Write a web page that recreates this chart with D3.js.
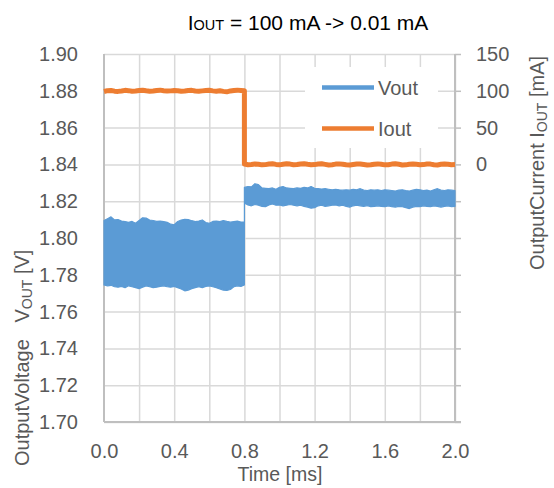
<!DOCTYPE html>
<html>
<head>
<meta charset="utf-8">
<script src="https://cdn.jsdelivr.net/npm/d3@7/dist/d3.min.js"></script>
<style>
  html, body { margin: 0; padding: 0; background: #fff; }
  svg { display: block; font-family: "Liberation Sans", Arial, sans-serif; }
</style>
</head>
<body>
<svg id="chart" width="554" height="488"></svg>
<script>
// ---------- data ----------
const seriesNames = ["Vout", "Iout"];
const xTickLabels = [0.0, 0.4, 0.8, 1.2, 1.6, 2.0];
const xGrid = [0.2, 0.4, 0.6, 0.8, 1.0, 1.2, 1.4, 1.6, 1.8, 2.0];
const yLeftTicks = [1.70, 1.72, 1.74, 1.76, 1.78, 1.80, 1.82, 1.84, 1.86, 1.88, 1.90];
const yRightLabels = [0, 50, 100, 150];
const yRightTicks = [-350, -300, -250, -200, -150, -100, -50, 0, 50, 100, 150];

// sample times [ms]
const t1 = [0.00,0.02,0.04,0.06,0.08,0.10,0.12,0.14,0.16,0.18,0.20,0.22,0.24,0.26,0.28,0.30,0.32,0.34,0.36,0.38,0.40,
            0.42,0.44,0.46,0.48,0.50,0.52,0.54,0.56,0.58,0.60,0.62,0.64,0.66,0.68,0.70,0.72,0.74,0.76,0.78,0.80];
const t2 = [0.80,0.82,0.84,0.86,0.88,0.90,0.92,0.94,0.96,0.98,1.00,1.02,1.04,1.06,1.08,1.10,1.12,1.14,1.16,1.18,1.20,
            1.22,1.24,1.26,1.28,1.30,1.32,1.34,1.36,1.38,1.40,1.42,1.44,1.46,1.48,1.50,1.52,1.54,1.56,1.58,1.60,
            1.62,1.64,1.66,1.68,1.70,1.72,1.74,1.76,1.78,1.80,1.82,1.84,1.86,1.88,1.90,1.92,1.94,1.96,1.98,2.00];

// Vout ripple envelope [V], 100 mA load
const voutHi1 = [1.8095,1.8105,1.8115,1.8098,1.8100,1.8092,1.8089,1.8085,1.8090,1.8080,1.8095,1.8110,1.8108,1.8098,1.8095,1.8090,1.8092,1.8089,1.8085,1.8075,1.8072,
                 1.8090,1.8098,1.8102,1.8100,1.8094,1.8089,1.8092,1.8098,1.8084,1.8080,1.8090,1.8092,1.8089,1.8095,1.8090,1.8086,1.8089,1.8092,1.8087,1.8088];
const voutLo1 = [1.7745,1.7740,1.7743,1.7735,1.7733,1.7737,1.7730,1.7740,1.7735,1.7730,1.7725,1.7733,1.7740,1.7735,1.7730,1.7733,1.7737,1.7740,1.7735,1.7733,1.7737,
                 1.7730,1.7723,1.7713,1.7717,1.7725,1.7730,1.7735,1.7730,1.7737,1.7740,1.7735,1.7730,1.7723,1.7717,1.7715,1.7720,1.7735,1.7740,1.7737,1.7745];
// Vout ripple envelope [V], 0.01 mA load
const voutHi2 = [1.8275,1.8280,1.8278,1.8295,1.8290,1.8272,1.8270,1.8268,1.8272,1.8265,1.8275,1.8280,1.8272,1.8270,1.8268,1.8272,1.8270,1.8275,1.8272,1.8280,1.8270,
                 1.8268,1.8266,1.8268,1.8265,1.8262,1.8265,1.8262,1.8260,1.8262,1.8260,1.8265,1.8262,1.8268,1.8260,1.8258,1.8262,1.8260,1.8262,1.8258,1.8262,
                 1.8260,1.8258,1.8255,1.8260,1.8262,1.8258,1.8255,1.8260,1.8265,1.8262,1.8258,1.8260,1.8255,1.8262,1.8268,1.8260,1.8258,1.8262,1.8260,1.8258];
const voutLo2 = [1.8190,1.8180,1.8175,1.8182,1.8178,1.8172,1.8170,1.8180,1.8185,1.8178,1.8180,1.8175,1.8178,1.8182,1.8178,1.8175,1.8178,1.8172,1.8168,1.8162,1.8165,
                 1.8175,1.8178,1.8172,1.8175,1.8178,1.8180,1.8175,1.8178,1.8172,1.8168,1.8175,1.8178,1.8175,1.8172,1.8176,1.8170,1.8172,1.8175,1.8172,1.8170,
                 1.8175,1.8170,1.8168,1.8172,1.8170,1.8165,1.8160,1.8168,1.8172,1.8170,1.8175,1.8172,1.8170,1.8175,1.8172,1.8168,1.8172,1.8175,1.8170,1.8172];

// Iout [mA]
const iout1 = [99.0,100.2,100.5,99.5,99.2,99.8,100.6,100.2,99.4,99.6,100.3,100.8,100.0,99.5,99.8,100.5,100.9,100.1,99.6,99.9,100.4,
               100.2,99.5,99.7,100.3,100.6,99.8,99.4,99.9,100.4,100.7,99.9,99.5,100.1,99.2,98.6,99.8,100.5,100.9,100.4,100.0];
const iout2 = [0.5,-0.5,-0.2,0.6,0.3,-0.6,-0.3,0.5,0.8,0.0,-0.6,0.2,0.9,0.4,-0.4,-0.2,0.6,0.9,0.1,-0.5,-0.3,
               0.5,0.8,0.0,-0.7,-0.4,0.4,0.7,0.2,-0.5,-0.8,-0.2,0.5,0.6,-0.1,-0.7,-0.4,0.3,0.7,0.2,-0.6,
               -0.5,0.4,0.8,0.1,-0.8,-0.6,0.2,0.6,0.1,-0.5,-0.3,0.5,0.4,-0.5,-0.8,0.1,0.6,0.3,-0.4,-0.2];

// ---------- build ----------
const voutData = t1.map((t, i) => ({t, hi: voutHi1[i], lo: voutLo1[i]}))
  .concat(t2.map((t, i) => ({t, hi: voutHi2[i], lo: voutLo2[i]})));
const ioutData = t1.map((t, i) => ({t, v: iout1[i]}))
  .concat(t2.map((t, i) => ({t, v: iout2[i]})));

const W = 554, H = 488;
const m = {left: 104, right: 99, top: 54, bottom: 66};
const pw = W - m.left - m.right;  // 351
const ph = H - m.top - m.bottom;  // 368

const colV = "#5B9BD5", colI = "#ED7D31";
const txt = "#595959", grid = "#D9D9D9", axisC = "#BFBFBF";
const fs = 20;

const svg = d3.select("#chart");
const g = svg.append("g").attr("transform", `translate(${m.left},${m.top})`);

const x = d3.scaleLinear().domain([0, 2]).range([0, pw]);
const yL = d3.scaleLinear().domain([1.70, 1.90]).range([ph, 0]);
const yR = d3.scaleLinear().domain([-350, 150]).range([ph, 0]);

// gridlines
const gx = g.append("g").attr("transform", `translate(0,${ph})`)
  .call(d3.axisBottom(x).tickValues(xGrid).tickSize(-ph).tickFormat(""));
gx.select(".domain").remove();
gx.selectAll("line").attr("stroke", grid).attr("stroke-width", 1.5);

const gy = g.append("g")
  .call(d3.axisLeft(yL).tickValues(yLeftTicks).tickSize(-pw).tickFormat(""));
gy.select(".domain").remove();
gy.selectAll("line").attr("stroke", grid).attr("stroke-width", 1.5);

// axis lines
g.append("line").attr("x1", 0).attr("x2", 0).attr("y1", 0).attr("y2", ph)
  .attr("stroke", axisC).attr("stroke-width", 2);

// left labels
const aL = g.append("g")
  .call(d3.axisLeft(yL).tickValues(yLeftTicks).tickSize(0).tickPadding(26).tickFormat(d3.format(".2f")));
aL.select(".domain").remove();
aL.selectAll("text").attr("fill", txt).attr("font-size", fs).attr("font-family", null);

// bottom labels + axis line
const aB = g.append("g").attr("transform", `translate(0,${ph})`)
  .call(d3.axisBottom(x).tickValues(xTickLabels).tickSize(0).tickPadding(22).tickFormat(d3.format(".1f")));
aB.select(".domain").remove();
aB.selectAll("text").attr("fill", txt).attr("font-size", fs).attr("font-family", null);
g.append("line").attr("x1", 0).attr("x2", pw + 6).attr("y1", ph).attr("y2", ph)
  .attr("stroke", axisC).attr("stroke-width", 2);

// right axis
const aR = g.append("g").attr("transform", `translate(${pw},0)`)
  .call(d3.axisRight(yR).tickValues(yRightTicks).tickSize(6).tickPadding(15)
    .tickFormat(d => yRightLabels.includes(d) ? d3.format("d")(d) : ""));
aR.select(".domain").attr("stroke", axisC).attr("stroke-width", 2).attr("d", `M0,0V${ph}`);
aR.selectAll("line").attr("stroke", axisC).attr("stroke-width", 1.5);
aR.selectAll("text").attr("fill", txt).attr("font-size", fs).attr("font-family", null);

// Vout band
const area = d3.area().x(d => x(d.t)).y0(d => yL(d.lo)).y1(d => yL(d.hi));
g.append("path").datum(voutData).attr("d", area).attr("fill", colV)
  .attr("stroke", colV).attr("stroke-width", 1.2).attr("stroke-linejoin", "round");

// Iout line
const line = d3.line().x(d => x(d.t)).y(d => yR(d.v));
g.append("path").datum(ioutData).attr("d", line).attr("fill", "none")
  .attr("stroke", colI).attr("stroke-width", 5).attr("stroke-linejoin", "round");

// legend
const lg = svg.append("g");
lg.append("rect").attr("x", 305).attr("y", 67).attr("width", 133).attr("height", 81).attr("fill", "#fff");
const legY = [87.5, 128.5];
seriesNames.forEach((name, i) => {
  lg.append("line").attr("x1", 322).attr("x2", 374).attr("y1", legY[i]).attr("y2", legY[i])
    .attr("stroke", i === 0 ? colV : colI).attr("stroke-width", 4.5);
  lg.append("text").attr("x", 378).attr("y", legY[i]).attr("dy", "0.35em")
    .attr("fill", txt).attr("font-size", fs).text(name);
});

// title
const title = svg.append("text").attr("x", 308).attr("y", 30).attr("text-anchor", "middle")
  .attr("fill", "#000").attr("font-size", 21);
title.append("tspan").text("I");
title.append("tspan").attr("font-size", 14.5).text("OUT");
title.append("tspan").text(" = 100 mA -> 0.01 mA");

// x title
svg.append("text").attr("x", 280).attr("y", 481).attr("text-anchor", "middle")
  .attr("fill", txt).attr("font-size", 19.5).text("Time [ms]");

// left y title
const lt = svg.append("text").attr("transform", "translate(29,466) rotate(-90)")
  .attr("fill", txt).attr("font-size", fs);
lt.append("tspan").text("OutputVoltage\u00a0\u00a0\u00a0V");
lt.append("tspan").attr("font-size", 14).attr("dy", 3).text("OUT");
lt.append("tspan").attr("dy", -3).text(" [V]");

// right y title
const rt = svg.append("text").attr("transform", "translate(544,270) rotate(-90)")
  .attr("fill", txt).attr("font-size", fs);
rt.append("tspan").text("OutputCurrent I");
rt.append("tspan").attr("font-size", 14).attr("dy", 3).text("OUT");
rt.append("tspan").attr("dy", -3).text(" [mA]");
</script>
</body>
</html>
